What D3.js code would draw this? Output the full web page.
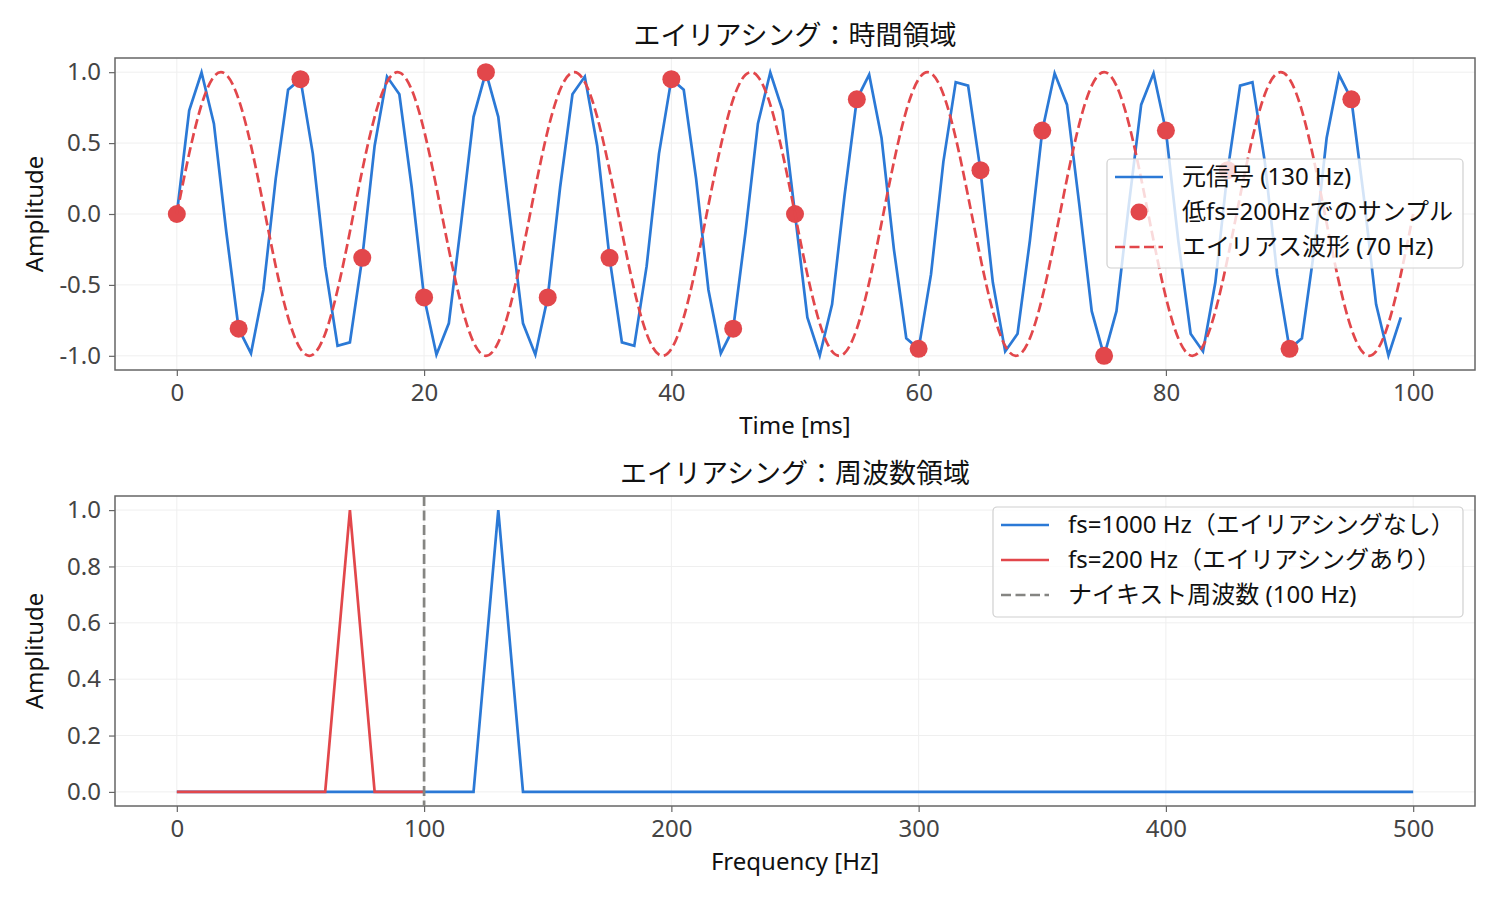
<!DOCTYPE html>
<html>
<head>
<meta charset="utf-8">
<script src="https://cdn.jsdelivr.net/npm/d3@7"></script>
<style>
  body { margin: 0; background: #fff; }
  text { font-family: "Noto Sans", "Noto Sans CJK JP", sans-serif; }
</style>
</head>
<body>
<script>
// original signal 130 Hz, sampled every 1 ms (t = 0..99)
var signal130 = [
  0, 0.729, 0.998, 0.637, -0.125, -0.809, -0.982, -0.536, 0.249, 0.876,
  0.951, 0.426, -0.368, -0.930, -0.905, -0.309, 0.482, 0.969, 0.844, 0.187,
  -0.588, -0.992, -0.771, -0.063, 0.685, 1, 0.685, -0.063, -0.771, -0.992,
  -0.588, 0.187, 0.844, 0.969, 0.482, -0.309, -0.905, -0.930, -0.368, 0.426,
  0.951, 0.876, 0.249, -0.536, -0.982, -0.809, -0.125, 0.637, 0.998, 0.729,
  0, -0.729, -0.998, -0.637, 0.125, 0.809, 0.982, 0.536, -0.249, -0.876,
  -0.951, -0.426, 0.368, 0.930, 0.905, 0.309, -0.482, -0.969, -0.844, -0.187,
  0.588, 0.992, 0.771, 0.063, -0.685, -1, -0.685, 0.063, 0.771, 0.992,
  0.588, -0.187, -0.844, -0.969, -0.482, 0.309, 0.905, 0.930, 0.368, -0.426,
  -0.951, -0.876, -0.249, 0.536, 0.982, 0.809, 0.125, -0.637, -0.998, -0.729
];

// samples at fs = 200 Hz (every 5 ms)
var sampleTimes = [0, 5, 10, 15, 20, 25, 30, 35, 40, 45, 50, 55, 60, 65, 70, 75, 80, 85, 90, 95];
var sampleValues = [0, -0.809, 0.951, -0.309, -0.588, 1, -0.588, -0.309, 0.951, -0.809,
                    0, 0.809, -0.951, 0.309, 0.588, -1, 0.588, 0.309, -0.951, 0.809];

// alias waveform 70 Hz, t = 0..100 ms
var alias70 = [
  0, 0.426, 0.771, 0.969, 0.982, 0.809, 0.482, 0.063, -0.368, -0.729,
  -0.951, -0.992, -0.844, -0.536, -0.125, 0.309, 0.685, 0.930, 0.998, 0.876,
  0.588, 0.187, -0.249, -0.637, -0.905, -1, -0.905, -0.637, -0.249, 0.187,
  0.588, 0.876, 0.998, 0.930, 0.685, 0.309, -0.125, -0.536, -0.844, -0.992,
  -0.951, -0.729, -0.368, 0.063, 0.482, 0.809, 0.982, 0.969, 0.771, 0.426,
  0, -0.426, -0.771, -0.969, -0.982, -0.809, -0.482, -0.063, 0.368, 0.729,
  0.951, 0.992, 0.844, 0.536, 0.125, -0.309, -0.685, -0.930, -0.998, -0.876,
  -0.588, -0.187, 0.249, 0.637, 0.905, 1, 0.905, 0.637, 0.249, -0.187,
  -0.588, -0.876, -0.998, -0.930, -0.685, -0.309, 0.125, 0.536, 0.844, 0.992,
  0.951, 0.729, 0.368, -0.063, -0.482, -0.809, -0.982, -0.969, -0.771, -0.426,
  0
];

// spectra
var freqHigh = [0, 10, 20, 30, 40, 50, 60, 70, 80, 90, 100, 110, 120, 130, 140, 150, 160, 170, 180, 190,
                200, 210, 220, 230, 240, 250, 260, 270, 280, 290, 300, 310, 320, 330, 340, 350, 360, 370, 380, 390,
                400, 410, 420, 430, 440, 450, 460, 470, 480, 490, 500];
var ampHigh = [0, 0, 0, 0, 0, 0, 0, 0, 0, 0, 0, 0, 0, 1, 0, 0, 0, 0, 0, 0,
               0, 0, 0, 0, 0, 0, 0, 0, 0, 0, 0, 0, 0, 0, 0, 0, 0, 0, 0, 0,
               0, 0, 0, 0, 0, 0, 0, 0, 0, 0, 0];
var freqLow = [0, 10, 20, 30, 40, 50, 60, 70, 80, 90, 100];
var ampLow = [0, 0, 0, 0, 0, 0, 0, 1, 0, 0, 0];
var nyquist = 100;

var timeTicks = [0, 20, 40, 60, 80, 100];
var ampTicksTop = [-1.0, -0.5, 0.0, 0.5, 1.0];
var freqTicks = [0, 100, 200, 300, 400, 500];
var ampTicksBottom = [0.0, 0.2, 0.4, 0.6, 0.8, 1.0];

var blue = "#2b79d6";
var red = "#e2474b";
var gray = "#858582";
var DASH = "10,4.5";

var W = 1500, H = 900;
var FONT = '"Noto Sans", "Noto Sans CJK JP", sans-serif';
var svg = d3.select("body").append("svg").attr("width", W).attr("height", H);

function panel(o) {
  var g = svg.append("g");
  var x = d3.scaleLinear().domain(o.xd).range([o.left, o.right]);
  var y = d3.scaleLinear().domain(o.yd).range([o.bottom, o.top]);

  // grid
  g.selectAll(".gx").data(o.xt).enter().append("line")
    .attr("x1", d => x(d)).attr("x2", d => x(d))
    .attr("y1", o.top).attr("y2", o.bottom)
    .attr("stroke", "#efefef").attr("stroke-width", 1);
  g.selectAll(".gy").data(o.yt).enter().append("line")
    .attr("x1", o.left).attr("x2", o.right)
    .attr("y1", d => y(d)).attr("y2", d => y(d))
    .attr("stroke", "#efefef").attr("stroke-width", 1);

  // axes
  var xa = g.append("g").attr("transform", "translate(0," + o.bottom + ")")
    .call(d3.axisBottom(x).tickValues(o.xt).tickFormat(d3.format("d")).tickSize(6).tickPadding(8));
  var ya = g.append("g").attr("transform", "translate(" + o.left + ",0)")
    .call(d3.axisLeft(y).tickValues(o.yt).tickFormat(d => d.toFixed(1)).tickSize(6).tickPadding(8));
  [xa, ya].forEach(function (a) {
    a.select(".domain").remove();
    a.selectAll("line").attr("stroke", "#666").attr("stroke-width", 1.2);
    a.selectAll("text").attr("fill", "#444").style("font-size", "24px").style("font-family", FONT);
  });

  // frame
  g.append("rect").attr("x", o.left).attr("y", o.top)
    .attr("width", o.right - o.left).attr("height", o.bottom - o.top)
    .attr("fill", "none").attr("stroke", "#666").attr("stroke-width", 1.5);

  // title and labels
  g.append("text").attr("x", (o.left + o.right) / 2).attr("y", o.top - 13)
    .attr("text-anchor", "middle").style("font-size", "27px").attr("fill", "#111").text(o.title);
  g.append("text").attr("x", (o.left + o.right) / 2).attr("y", o.bottom + 64)
    .attr("text-anchor", "middle").style("font-size", "24px").attr("fill", "#111").text(o.xl);
  g.append("text").attr("transform", "translate(43," + ((o.top + o.bottom) / 2) + ") rotate(-90)")
    .attr("text-anchor", "middle").style("font-size", "24px").attr("fill", "#111").text(o.yl);

  var plot = g.append("g");
  return { g: g, plot: plot, x: x, y: y };
}

function legend(items, x0, y0, w, h) {
  var lg = svg.append("g");
  lg.append("rect").attr("x", x0).attr("y", y0).attr("width", w).attr("height", h)
    .attr("rx", 4).attr("fill", "white").attr("fill-opacity", 0.8)
    .attr("stroke", "#d0d0d0").attr("stroke-width", 1.2);
  items.forEach(function (it, i) {
    var cy = y0 + 18 + i * 35;
    if (it.type === "dot") {
      lg.append("circle").attr("cx", x0 + 32).attr("cy", cy).attr("r", 8.5).attr("fill", it.color);
    } else {
      lg.append("line").attr("x1", x0 + 8).attr("x2", x0 + 56).attr("y1", cy).attr("y2", cy)
        .attr("stroke", it.color).attr("stroke-width", 2.7)
        .attr("stroke-dasharray", it.dash || null);
    }
    lg.append("text").attr("x", x0 + 75).attr("y", cy).attr("dy", "0.35em")
      .style("font-size", "24px").attr("fill", "#111").text(it.label);
  });
}

// ---- top panel: time domain
var timeP = panel({
  left: 115, right: 1475, top: 58, bottom: 370,
  xd: [-5, 105], yd: [-1.1, 1.1],
  xt: timeTicks, yt: ampTicksTop,
  title: "エイリアシング：時間領域", xl: "Time [ms]", yl: "Amplitude"
});

timeP.plot.append("path").datum(signal130)
  .attr("fill", "none").attr("stroke", blue).attr("stroke-width", 2.7)
  .attr("d", d3.line().x((d, i) => timeP.x(i)).y(d => timeP.y(d)));

timeP.plot.selectAll("circle").data(sampleValues).enter().append("circle")
  .attr("cx", (d, i) => timeP.x(sampleTimes[i])).attr("cy", d => timeP.y(d))
  .attr("r", 9).attr("fill", red);

timeP.plot.append("path").datum(alias70)
  .attr("fill", "none").attr("stroke", red).attr("stroke-width", 2.7)
  .attr("stroke-dasharray", DASH)
  .attr("d", d3.line().curve(d3.curveNatural).x((d, i) => timeP.x(i)).y(d => timeP.y(d)));

legend([
  { label: "元信号 (130 Hz)", color: blue },
  { label: "低fs=200Hzでのサンプル", color: red, type: "dot" },
  { label: "エイリアス波形 (70 Hz)", color: red, dash: DASH }
], 1107, 159, 356, 109);

// ---- bottom panel: frequency domain
var freqP = panel({
  left: 115, right: 1475, top: 496, bottom: 806,
  xd: [-25, 525], yd: [-0.05, 1.05],
  xt: freqTicks, yt: ampTicksBottom,
  title: "エイリアシング：周波数領域", xl: "Frequency [Hz]", yl: "Amplitude"
});

freqP.plot.append("path").datum(ampHigh)
  .attr("fill", "none").attr("stroke", blue).attr("stroke-width", 2.7)
  .attr("d", d3.line().x((d, i) => freqP.x(freqHigh[i])).y(d => freqP.y(d)));

freqP.plot.append("path").datum(ampLow)
  .attr("fill", "none").attr("stroke", red).attr("stroke-width", 2.7)
  .attr("d", d3.line().x((d, i) => freqP.x(freqLow[i])).y(d => freqP.y(d)));

freqP.plot.append("line")
  .attr("x1", freqP.x(nyquist)).attr("x2", freqP.x(nyquist))
  .attr("y1", 496).attr("y2", 806)
  .attr("stroke", gray).attr("stroke-width", 2.7).attr("stroke-dasharray", DASH);

legend([
  { label: "fs=1000 Hz（エイリアシングなし）", color: blue },
  { label: "fs=200 Hz（エイリアシングあり）", color: red },
  { label: "ナイキスト周波数 (100 Hz)", color: gray, dash: DASH }
], 993, 507, 470, 110);
</script>
</body>
</html>
